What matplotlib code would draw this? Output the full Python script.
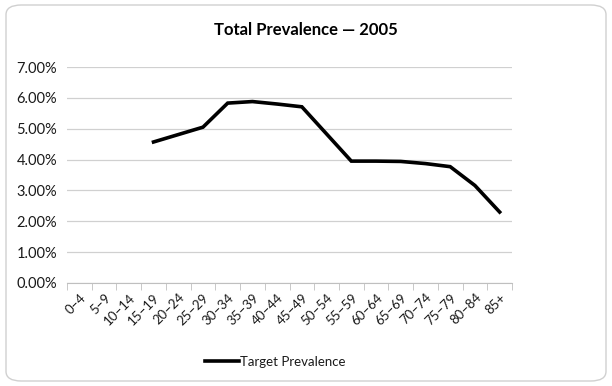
import numpy as np
import matplotlib.pyplot as plt
from matplotlib.patches import FancyBboxPatch
from matplotlib.ticker import FuncFormatter

plt.rcParams['font.family'] = ['Lato', 'DejaVu Sans']

age_groups = ['0\u20134', '5\u20139', '10\u201314', '15\u201319', '20\u201324', '25\u201329',
              '30\u201334', '35\u201339', '40\u201344', '45\u201349', '50\u201354', '55\u201359',
              '60\u201364', '65\u201369', '70\u201374', '75\u201379', '80\u201384', '85+']
# prevalence in %, no values for the youngest three groups
prevalence = [np.nan, np.nan, np.nan, 4.57, 4.81, 5.05, 5.83, 5.88, 5.80, 5.71,
              4.83, 3.95, 3.95, 3.94, 3.87, 3.77, 3.16, 2.30]

fig = plt.figure(figsize=(6.12, 3.86), dpi=100)
ax = fig.add_axes([67/612, 1 - 283/386, 445/612, 216/386])

# rounded chart border
border = FancyBboxPatch((6/612, 5/386), 600/612, 376/386,
                        boxstyle='round,pad=0,rounding_size=0.025',
                        transform=fig.transFigure, facecolor='white',
                        edgecolor='#d0d0d0', linewidth=1.0, zorder=-10)
fig.patches.append(border)

x = np.arange(len(age_groups))
ax.plot(x, prevalence, color='black', linewidth=2.6, solid_joinstyle='miter',
        label='Target Prevalence')

ax.set_xlim(-0.5, len(age_groups) - 0.5)
ax.set_ylim(0, 7)
ax.set_yticks(np.arange(0, 8, 1))
ax.yaxis.set_major_formatter(FuncFormatter(lambda v, p: '%.2f%%' % v))
ax.set_xticks(x)
ax.set_xticklabels(age_groups, rotation=45, ha='right', rotation_mode='anchor')
ax.set_xticks(np.arange(-0.5, len(age_groups)), minor=True)

ax.grid(axis='y', color='#d0d0d0', linewidth=0.9)
ax.set_axisbelow(True)
for s in ['top', 'right', 'left']:
    ax.spines[s].set_visible(False)
ax.spines['bottom'].set_color('#bfbfbf')
ax.tick_params(axis='y', length=0, labelsize=10.5, colors='#1a1a1a', pad=7)
ax.tick_params(axis='x', which='major', length=0, labelsize=9.5, colors='#1a1a1a', pad=6)
ax.tick_params(axis='x', which='minor', length=5, color='#bfbfbf')
ax.set_facecolor('none')

fig.text(0.5, 1 - 30/386, 'Total Prevalence \u2014 2005', ha='center', va='center',
         fontsize=12, fontweight='bold', color='black')

ax.legend(loc='center', bbox_to_anchor=(0.45, 1 - 362/386), bbox_transform=fig.transFigure,
          frameon=False, fontsize=9.5, handlelength=2.6, handletextpad=0.1,
          labelcolor='#1a1a1a')

fig.savefig('out.png', dpi=100)
